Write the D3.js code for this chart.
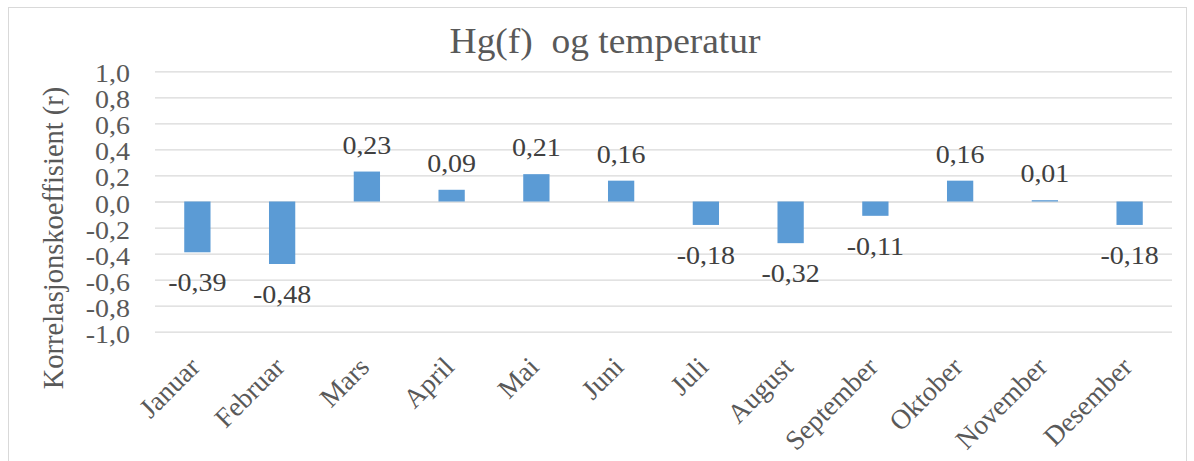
<!DOCTYPE html>
<meta charset="utf-8">
<head>
<style>
    body { margin: 0; background: #fff; }
    text { font-family: "Liberation Serif", "Times New Roman", serif; }
    .grid line { stroke: #d9d9d9; stroke-width: 1.3px; }
    .grid path { display: none; }
    .axis path, .axis line { display: none; }
    .axis text { fill: #595959; font-size: 25px; }
    .xaxis text { font-size: 27.5px; }
    .bar { fill: #5b9bd5; }
    .label { fill: #404040; font-size: 25px; }
</style>
</head>
<body>
<script src="https://d3js.org/d3.v7.min.js"></script>
<script>

    var months = ["Januar", "Februar", "Mars", "April", "Mai", "Juni", "Juli",
        "August", "September", "Oktober", "November", "Desember"];
    var values = [-0.39, -0.48, 0.23, 0.09, 0.21, 0.16, -0.18, -0.32, -0.11, 0.16, 0.01, -0.18];
    var yTicks = [-1, -0.8, -0.6, -0.4, -0.2, 0, 0.2, 0.4, 0.6, 0.8, 1];

    var W = 1194, H = 461;
    var margin = {top: 71.3, right: 22, bottom: 129.3, left: 155},
        width = W - margin.left - margin.right,
        height = H - margin.top - margin.bottom;

    // numbers in the reference are a bit wider than plain Times
    var stretch = "scale(1.12,1)";

    var comma = function (v, d) {
        return v.toFixed(d).replace(".", ",");
    };

    var x = d3.scaleBand()
        .domain(months)
        .range([0, width])
        .paddingInner(0.69)
        .paddingOuter(0.345);

    var y = d3.scaleLinear()
        .domain([-1, 1])
        .range([height, 0]);

    var root = d3.select("body").append("svg")
        .attr("width", W)
        .attr("height", H);

    // chart border
    root.append("rect")
        .attr("x", 8.5).attr("y", 7.5)
        .attr("width", 1178).attr("height", 470)
        .attr("fill", "none")
        .attr("stroke", "#d9d9d9");

    root.append("text")
        .attr("transform", "translate(605,53) scale(1.07,1)")
        .attr("text-anchor", "middle")
        .attr("fill", "#595959")
        .style("font-size", "35px")
        .style("white-space", "pre")
        .text("Hg(f)  og temperatur");

    root.append("text")
        .attr("transform", "translate(63,238) rotate(-90)")
        .attr("text-anchor", "middle")
        .attr("fill", "#595959")
        .style("font-size", "28.5px")
        .text("Korrelasjonskoeffisient (r)");

    var svg = root.append("g")
        .attr("transform", "translate(" + margin.left + "," + margin.top + ")");

    // gridlines
    svg.append("g")
        .attr("class", "grid")
        .call(d3.axisLeft(y).tickValues(yTicks).tickSize(-width).tickFormat(""));

    // y axis labels
    svg.append("g")
        .attr("class", "axis")
        .attr("transform", "translate(-25,0)")
        .call(d3.axisLeft(y).tickValues(yTicks).tickSize(0).tickPadding(0)
            .tickFormat(function (d) { return comma(d, 1); }))
        .selectAll("text")
        .attr("x", 0)
        .attr("dy", "0.42em")
        .attr("transform", stretch);

    // x axis labels
    svg.append("g")
        .attr("class", "axis xaxis")
        .attr("transform", "translate(0," + height + ")")
        .call(d3.axisBottom(x).tickSize(0).tickPadding(0))
        .selectAll("text")
        .attr("text-anchor", "end")
        .attr("y", 0)
        .attr("dy", null)
        .attr("transform", "translate(4,37) rotate(-45)");

    svg.selectAll(".bar")
        .data(values)
        .enter().append("rect")
        .attr("class", "bar")
        .attr("x", function (d, i) { return x(months[i]); })
        .attr("width", x.bandwidth())
        .attr("y", function (d) { return y(Math.max(0, d)); })
        .attr("height", function (d) { return Math.abs(y(d) - y(0)); });

    svg.selectAll(".label")
        .data(values)
        .enter().append("text")
        .attr("class", "label")
        .attr("text-anchor", "middle")
        .attr("transform", function (d, i) {
            var cx = x(months[i]) + x.bandwidth() / 2,
                cy = d >= 0 ? y(d) - 18 : y(d) + 39;
            return "translate(" + cx + "," + cy + ") " + stretch;
        })
        .text(function (d) { return comma(d, 2); });

</script>
</body>
